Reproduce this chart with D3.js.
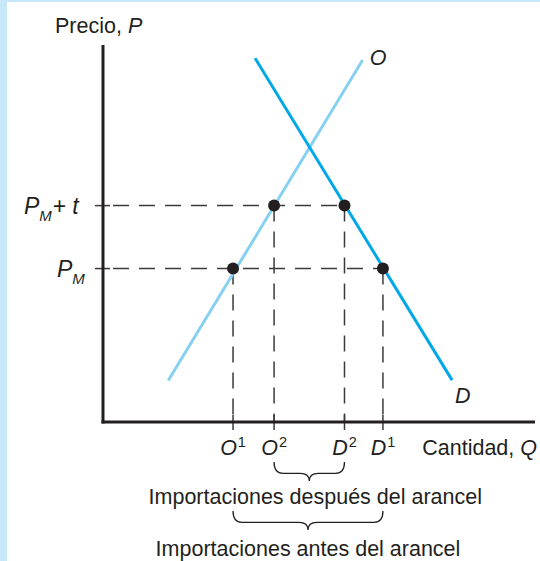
<!DOCTYPE html>
<html>
<head>
<meta charset="utf-8">
<script src="https://cdn.jsdelivr.net/npm/d3@7"></script>
<style>
  html, body { margin: 0; padding: 0; background: #fff; }
  svg { display: block; font-family: "Liberation Sans", Arial, Helvetica, sans-serif; }
</style>
</head>
<body>
<svg id="chart"></svg>
<script>
// ── Data (quantity / price units on a 0–100 grid) ──
const qTicks = [30.1, 39.6, 55.9, 64.8];          // O1, O2, D2, D1
const qTickNames = ["O", "O", "D", "D"];
const qTickSups = ["1", "2", "2", "1"];
const pLevels = [40.7, 57.4];                      // P_M, P_M + t
const supplyLine = [[15.1, 11.0], [60.1, 96.0]];   // O
const demandLine = [[35.2, 96.5], [80.8, 11.1]];   // D
const points = [[30.1, 40.7], [39.6, 57.4], [55.9, 57.4], [64.8, 40.7]];
const guidesH = [[40.7, 64.8], [57.4, 55.9]];      // price level -> right end qty
const guidesV = [[30.1, 40.7], [39.6, 57.4], [55.9, 57.4], [64.8, 40.7]];
const braces = [
  { from: 39.6, to: 55.9, label: "Importaciones después del arancel" },
  { from: 30.1, to: 64.8, label: "Importaciones antes del arancel" }
];

// ── Dimensions ──
const width = 540, height = 561;
const ink = "#231f20";

const svg = d3.select("#chart").attr("width", width).attr("height", height);

const x = d3.scaleLinear().domain([0, 100]).range([103, 535]);
const y = d3.scaleLinear().domain([0, 100]).range([422, 45]);

// page frame strips
svg.append("rect").attr("width", width).attr("height", height).attr("fill", "#fff");
svg.append("rect").attr("width", 7).attr("height", height).attr("fill", "#c6e8f8");
svg.append("rect").attr("width", width).attr("height", 2).attr("fill", "#c6e8f8");

// ── Dashed guides ──
const dash = "16,10";
svg.append("g").selectAll("line")
  .data(guidesH)
  .join("line")
  .attr("x1", x(0) + 2).attr("x2", d => x(d[1]))
  .attr("y1", d => y(d[0])).attr("y2", d => y(d[0]))
  .attr("stroke", "#3a3a3a").attr("stroke-width", 1.5)
  .attr("stroke-dasharray", dash).attr("stroke-dashoffset", -8);

svg.append("g").selectAll("line")
  .data(guidesV)
  .join("line")
  .attr("x1", d => x(d[0])).attr("x2", d => x(d[0]))
  .attr("y1", d => y(d[1])).attr("y2", y(0))
  .attr("stroke", "#3a3a3a").attr("stroke-width", 1.5)
  .attr("stroke-dasharray", dash);

// ── Ticks crossing the axes ──
svg.append("g").selectAll("line")
  .data(pLevels)
  .join("line")
  .attr("x1", x(0) - 8).attr("x2", x(0) + 7)
  .attr("y1", d => y(d)).attr("y2", d => y(d))
  .attr("stroke", "#3a3a3a").attr("stroke-width", 1.5);

svg.append("g").selectAll("line")
  .data(qTicks)
  .join("line")
  .attr("x1", d => x(d)).attr("x2", d => x(d))
  .attr("y1", y(0) - 7).attr("y2", y(0) + 8)
  .attr("stroke", "#3a3a3a").attr("stroke-width", 1.5);

// ── Supply and demand ──
const line = d3.line().x(d => x(d[0])).y(d => y(d[1]));
svg.append("path").attr("d", line(supplyLine))
  .attr("fill", "none").attr("stroke", "#86d1f1").attr("stroke-width", 3);
svg.append("path").attr("d", line(demandLine))
  .attr("fill", "none").attr("stroke", "#00a8e6").attr("stroke-width", 3);

// ── Axes ──
svg.append("line")
  .attr("x1", x(0)).attr("x2", x(0)).attr("y1", y(100)).attr("y2", y(0) + 1.5)
  .attr("stroke", ink).attr("stroke-width", 3);
svg.append("line")
  .attr("x1", x(0) - 1.5).attr("x2", x(100)).attr("y1", y(0)).attr("y2", y(0))
  .attr("stroke", ink).attr("stroke-width", 3);

// ── Points ──
svg.append("g").selectAll("circle")
  .data(points)
  .join("circle")
  .attr("cx", d => x(d[0])).attr("cy", d => y(d[1]))
  .attr("r", 6).attr("fill", ink);

// ── Text ──
const fs = 21.5;
const txt = (px, py, anchor) => svg.append("text")
  .attr("x", px).attr("y", py).attr("text-anchor", anchor || "start")
  .attr("font-size", fs).attr("fill", ink);

const tP = txt(55, 33);
tP.append("tspan").text("Precio, ");
tP.append("tspan").attr("font-style", "italic").text("P");

const tQ = txt(x(100) + 2, 455, "end");
tQ.append("tspan").text("Cantidad, ");
tQ.append("tspan").attr("font-style", "italic").text("Q");

// curve labels
txt(x(supplyLine[1][0]) + 7, y(supplyLine[1][1]) + 5).attr("font-style", "italic").text("O");
txt(x(demandLine[1][0]) + 3, y(demandLine[1][1]) + 23).attr("font-style", "italic").text("D");

// price labels
const tPMt = txt(24, y(pLevels[1]) + 8).attr("font-size", 23);
tPMt.append("tspan").attr("font-style", "italic").text("P");
tPMt.append("tspan").attr("font-size", 15).attr("font-style", "italic").attr("dy", 7).text("M");
tPMt.append("tspan").attr("dy", -7).attr("dx", 1).text("+");
tPMt.append("tspan").attr("font-style", "italic").attr("dx", 6).text("t");

const tPM = txt(57, y(pLevels[0]) + 8).attr("font-size", 23);
tPM.append("tspan").attr("font-style", "italic").text("P");
tPM.append("tspan").attr("font-size", 15).attr("font-style", "italic").attr("dy", 7).text("M");

// quantity labels
qTicks.forEach((q, i) => {
  const t = txt(x(q), 455, "middle");
  t.append("tspan").attr("font-style", "italic").text(qTickNames[i]);
  t.append("tspan").attr("font-size", 14.5).attr("dy", -8).attr("dx", 1).text(qTickSups[i]);
});

// ── Braces ──
function bracePath(x1, x2, top, h) {
  const mid = (x1 + x2) / 2, r = 9, ym = top + h * 0.6;
  return `M${x1},${top} Q${x1},${ym} ${x1 + r},${ym} L${mid - r},${ym} ` +
    `Q${mid},${ym} ${mid},${top + h} Q${mid},${ym} ${mid + r},${ym} ` +
    `L${x2 - r},${ym} Q${x2},${ym} ${x2},${top}`;
}
const braceTops = [462, 511];
const labelY = [504, 556];
braces.forEach((b, i) => {
  svg.append("path")
    .attr("d", bracePath(x(b.from), x(b.to), braceTops[i], 19))
    .attr("fill", "none").attr("stroke", ink).attr("stroke-width", 1.3);
  txt((x(b.from) + x(b.to)) / 2 + (i === 0 ? 6 : 0), labelY[i], "middle").text(b.label);
});
</script>
</body>
</html>
